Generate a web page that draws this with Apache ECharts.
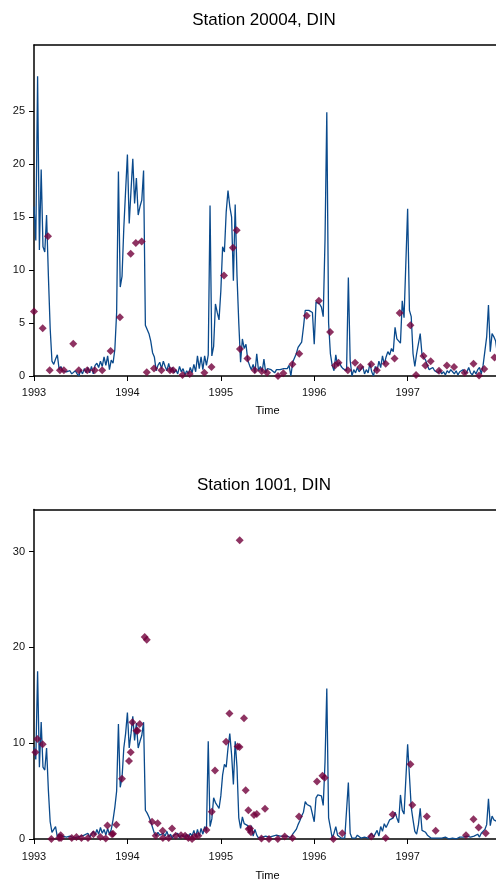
<!DOCTYPE html>
<html>
<head>
<meta charset="utf-8">
<script src="https://cdn.jsdelivr.net/npm/echarts@6/dist/echarts.min.js"></script>
<style>
  html, body { margin: 0; padding: 0; background: #fff; }
  #chart { width: 496px; height: 887px; }
</style>
</head>
<body>
<div id="chart"></div>
<script>
// weekly samples, first one at 1993.0
var startYear = 1993;
var samplesPerYear = 52;

var line20004 = [
  16.0, 12.8, 28.3, 11.9, 19.5, 12.2, 11.7, 15.2, 9.5, 4.5,
  1.4, 1.1, 1.6, 2.0, 0.6, 0.9, 0.5, 0.6, 0.4, 0.3,
  0.5, 0.2, 0.1, 0.5, 0.2, 0.0, 0.6, 0.2, 0.7, 0.3,
  0.8, 0.3, 0.9, 0.2, 1.0, 1.2, 0.8, 1.4, 0.9, 1.8,
  1.0, 1.9, 0.6, 1.5, 1.2, 2.5, 6.0, 19.3, 8.4, 9.4,
  14.0, 17.5,
  20.9, 14.4, 17.5, 20.5, 16.3, 18.7, 15.2, 16.0, 16.6, 19.4,
  4.8, 4.4, 4.0, 3.3, 2.2, 1.8, 0.5, 1.0, 1.3, 0.7,
  1.4, 0.9, 0.5, 1.2, 0.4, 0.8, 0.3, 0.6, 0.2, 0.9,
  0.4, 0.7, 0.1, 0.5, 0.2, 0.8, 0.3, 1.1, 0.4, 1.9,
  0.7, 1.8, 0.6, 1.9, 1.0, 2.0, 16.1, 1.9, 2.8, 6.8,
  6.0, 5.3,
  8.0, 12.2, 11.7, 15.5, 17.5, 16.0, 15.0, 9.0, 16.2, 9.5,
  5.0, 1.3, 3.5, 2.6, 3.0, 1.5, 1.0, 0.6, 1.1, 0.3,
  2.1, 0.5, 0.9, 0.4, 1.6, 0.3, 0.7, 0.6, 0.6, 0.5,
  0.3, 0.6, 0.7, 0.6, 0.5, 0.7, 0.8, 0.7, 1.0, 0.0,
  1.3, 1.7, 2.1, 2.7, 2.6, 3.2, 4.6, 6.2, 6.3, 6.2,
  6.1, 6.0,
  3.0, 7.0, 7.0, 6.8, 6.5, 5.6, 12.8, 24.9, 5.0, 2.1,
  1.0, 0.5, 2.0, 1.0, 1.3, 0.9, 0.7, 0.6, 0.5, 9.3,
  1.5, 0.0, 0.6, 0.3, 0.8, 0.4, 0.5, 0.9, 0.2, 0.6,
  0.3, 1.2, 0.4, 0.0, 0.9, 0.5, 1.4, 0.8, 1.9, 1.1,
  1.8, 2.3, 2.0, 2.6, 2.3, 4.6, 3.5, 3.6, 3.1, 7.1,
  5.5, 5.6,
  15.8, 6.2, 5.6, 2.1, 0.9, 2.1, 2.0, 4.0, 2.0, 2.1,
  1.5, 1.0, 0.6, 0.5, 0.8, 0.5, 0.6, 0.3, 0.6, 0.2,
  0.4, 0.1, 0.5, 0.3, 0.6, 0.4, 0.2, 0.5, 0.1, 0.4,
  0.3, 0.6, 0.2, 0.4, 0.8, 0.3, 0.1, 0.5, 0.2, 0.6,
  0.8, 0.2, 1.0, 1.0, 3.7, 6.7, 2.3, 4.0, 3.7, 3.3,
  2.0, 2.5
];

var line1001 = [
  9.6, 8.3, 17.5, 7.5, 12.2, 7.5, 7.2, 9.5, 5.1, 1.8,
  0.7, 0.9, 1.3, 0.2, 0.5, 0.4, 0.3, 0.3, 0.2, 0.4,
  0.3, 0.2, 0.1, 0.3, 0.2, 0.1, 0.3, 0.1, 0.4, 0.2,
  0.6, 0.2, 0.5, 0.8, 0.4, 1.0, 0.5, 1.2, 0.6, 1.0,
  0.4, 1.1, 0.5, 1.0, 2.0, 3.3, 5.0, 12.0, 5.4, 6.4,
  9.5, 11.0,
  13.2, 9.5, 11.0, 12.8, 10.3, 12.1, 9.5, 10.2, 10.8, 12.2,
  3.0, 2.7, 2.3, 1.8, 1.2, 0.6, 0.3, 0.7, 0.4, 0.2,
  0.6, 0.3, 0.8, 0.2, 0.5, 0.1, 0.4, 0.2, 0.6, 0.1,
  0.4, 0.3, 0.2, 0.5, 0.1, 0.6, 0.3, 0.9, 0.2, 1.0,
  0.3, 1.1, 0.5, 1.3, 0.8, 10.2, 1.3, 2.1, 4.3, 3.8,
  3.5, 3.2,
  4.5, 6.7, 7.8, 7.5, 9.5, 11.0, 8.8, 5.7, 10.2, 7.5,
  2.2, 1.1, 2.3, 1.6, 1.6, 1.4, 0.6, 1.4, 0.3, 1.0,
  0.4, 0.1, 0.3, 0.2, 0.2, 0.3, 0.1, 0.2, 0.4, 0.3,
  0.2, 0.4, 0.2, 0.3, 0.1, 0.3, 0.1, 0.3, 0.3, 0.1,
  0.5, 0.7, 1.0, 1.5, 1.9, 2.4, 2.8, 3.9, 3.6, 3.5,
  3.4, 3.4,
  1.8, 4.3, 4.6, 4.5, 4.5, 3.5, 8.0, 15.7, 2.2, 1.2,
  0.1, 0.6, 1.3, 0.4, 0.2, 0.1, 0.2, 0.1, 0.1, 5.9,
  0.6, 0.1, 0.3, 0.1, 0.4, 0.2, 0.1, 0.3, 0.2, 0.4,
  0.1, 0.2, 0.6, 0.2, 0.4, 0.9, 0.3, 1.3, 0.8, 1.6,
  1.2, 1.6, 2.0, 1.8, 2.2, 2.8, 2.2, 1.7, 4.6, 3.0,
  2.6, 2.6,
  9.9, 6.6, 3.3, 2.0, 0.8, 0.5, 1.5, 3.2, 0.9, 1.0,
  0.7, 0.4, 0.3, 0.1, 0.2, 0.1, 0.0, 0.1, 0.2, 0.1,
  0.0, 0.2, 0.1, 0.0, 0.2, 0.1, 0.2, 0.0, 0.1, 0.2,
  0.1, 0.2, 0.1, 0.3, 0.1, 0.2, 0.1, 0.3, 0.2, 0.5,
  0.2, 0.6, 0.4, 1.0, 1.5, 4.2, 1.4, 2.4, 2.0, 2.1,
  1.8, 2.0
];

// observations (diamonds)
var obsYears20004 = [1993.0, 1993.093, 1993.15, 1993.168, 1993.278, 1993.32, 1993.42, 1993.48, 1993.57, 1993.65,
  1993.73, 1993.82, 1993.92, 1994.035, 1994.09, 1994.153, 1994.207, 1994.285, 1994.364, 1994.456,
  1994.49, 1994.59, 1994.667, 1994.824, 1994.9, 1995.034, 1995.13, 1995.17, 1995.205, 1995.285,
  1995.363, 1995.438, 1995.495, 1995.612, 1995.67, 1995.767, 1995.84, 1995.92, 1996.05, 1996.17,
  1996.223, 1996.26, 1996.36, 1996.437, 1996.495, 1996.61, 1996.67, 1996.765, 1996.86, 1996.915,
  1997.03, 1997.09, 1997.17, 1997.19, 1997.247, 1997.336, 1997.42, 1997.497, 1997.61, 1997.705,
  1997.765, 1997.82, 1997.93];
var obsValues20004 = [6.1, 4.5, 13.2, 0.55, 0.55, 0.55, 3.05, 0.55, 0.55, 0.55,
  0.55, 2.35, 5.55, 11.55, 12.55, 12.7, 0.35, 0.7, 0.55, 0.55,
  0.55, 0.1, 0.2, 0.3, 0.85, 9.5, 12.1, 13.75, 2.55, 1.65,
  0.55, 0.45, 0.3, 0.0, 0.25, 1.1, 2.1, 5.7, 7.1, 4.15,
  1.0, 1.25, 0.55, 1.25, 0.85, 1.1, 0.55, 1.15, 1.65, 5.95,
  4.8, 0.1, 1.9, 1.0, 1.4, 0.5, 1.0, 0.85, 0.3, 1.15,
  0.05, 0.65, 1.75];

var obsYears1001 = [1993.015, 1993.036, 1993.093, 1993.186, 1993.268, 1993.286, 1993.29, 1993.404, 1993.454, 1993.508,
  1993.578, 1993.636, 1993.71, 1993.768, 1993.786, 1993.835, 1993.846, 1993.882, 1993.942,
  1994.017, 1994.035, 1994.053, 1994.096, 1994.11, 1994.132, 1994.185, 1994.207, 1994.264, 1994.303,
  1994.324, 1994.378, 1994.38, 1994.442, 1994.478, 1994.517, 1994.574, 1994.617, 1994.653, 1994.692,
  1994.72, 1994.76, 1994.846, 1994.903, 1994.938,
  1995.056, 1995.092, 1995.18, 1995.2, 1995.202, 1995.248, 1995.266, 1995.295, 1995.298, 1995.313,
  1995.323, 1995.355, 1995.385, 1995.435, 1995.473, 1995.516, 1995.61, 1995.684, 1995.767, 1995.837,
  1996.03, 1996.088, 1996.112, 1996.205, 1996.3, 1996.61, 1996.765, 1996.84,
  1997.03, 1997.05, 1997.205, 1997.3, 1997.625, 1997.705, 1997.76, 1997.836];
var obsValues1001 = [9.05, 10.45, 9.9, 0.0, 0.1, 0.4, 0.1, 0.1, 0.2, 0.1,
  0.1, 0.5, 0.2, 0.05, 1.4, 0.5, 0.55, 1.5, 6.3,
  8.15, 9.05, 12.2, 11.3, 11.3, 12.0, 21.1, 20.8, 1.8, 0.35,
  1.65, 0.85, 0.1, 0.1, 1.1, 0.35, 0.4, 0.35, 0.1, 0.0,
  0.25, 0.35, 0.95, 2.85, 7.15,
  10.15, 13.1, 9.65, 9.6, 31.2, 12.6, 5.1, 3.0, 1.05, 1.1,
  0.7, 2.5, 2.6, 0.05, 3.15, 0.0, 0.0, 0.25, 0.1, 2.35,
  6.0, 6.6, 6.4, 0.0, 0.6, 0.25, 0.1, 2.55,
  7.8, 3.55, 2.35, 0.85, 0.4, 2.05, 1.2, 0.6];

var titles = ["Station 20004, DIN", "Station 1001, DIN"];
var yTicks20004 = [0, 5, 10, 15, 20, 25];
var yTicks1001 = [0, 10, 20, 30];
var xTicks = [1993, 1994, 1995, 1996, 1997];

var lineColor = '#0a4a8c';
var pointColor = '#72003b';
var font = 'Liberation Sans, Arial, sans-serif';

// the plot runs off the right edge of the page, so the visible part ends just before 1998
var xMax = 1997.946;

function weekly(values) {
  var out = [];
  for (var i = 0; i < values.length; i++) {
    out.push([startYear + i / samplesPerYear, values[i]]);
  }
  return out;
}

function pairs(xs, ys) {
  var out = [];
  for (var i = 0; i < xs.length; i++) {
    out.push([xs[i], ys[i]]);
  }
  return out;
}

function xAxisFor(idx, labelMargin, nameGap) {
  return {
    type: 'value', gridIndex: idx, min: 1993, max: xMax,
    name: 'Time', nameLocation: 'middle', nameGap: nameGap,
    nameTextStyle: { fontFamily: font, fontSize: 11, color: '#000', padding: [0, 0, 0, 5] },
    axisLine: { show: true, onZero: false, lineStyle: { color: '#000', width: 1.5 } },
    axisTick: { show: true, length: 5, customValues: xTicks, lineStyle: { color: '#000' } },
    axisLabel: {
      customValues: xTicks, margin: labelMargin, fontFamily: font, fontSize: 11, color: '#111',
      formatter: function(v) { return String(v); }
    },
    splitLine: { show: false }
  };
}

// top frame line only (the right side is cut off)
function topAxisFor(idx) {
  return {
    type: 'value', gridIndex: idx, position: 'top', min: 1993, max: xMax,
    axisLine: { show: true, onZero: false, lineStyle: { color: '#000', width: 1.5 } },
    axisTick: { show: false }, axisLabel: { show: false }, splitLine: { show: false }
  };
}

function yAxisFor(idx, max, ticks) {
  return {
    type: 'value', gridIndex: idx, min: 0, max: max,
    axisLine: { show: true, onZero: false, lineStyle: { color: '#000', width: 1.5 } },
    axisTick: { show: true, length: 5, customValues: ticks, lineStyle: { color: '#000' } },
    axisLabel: { customValues: ticks, margin: 9, fontFamily: font, fontSize: 11, color: '#111' },
    splitLine: { show: false }
  };
}

var chart = echarts.init(document.getElementById('chart'), null, { renderer: 'canvas' });
chart.setOption({
  backgroundColor: '#fff',
  animation: false,
  title: [{
    text: titles[0], left: 264, top: 12, textAlign: 'center', padding: 0,
    textStyle: { fontFamily: font, fontSize: 17, fontWeight: 'normal', color: '#000' }
  }, {
    text: titles[1], left: 264, top: 477, textAlign: 'center', padding: 0,
    textStyle: { fontFamily: font, fontSize: 17, fontWeight: 'normal', color: '#000' }
  }],
  grid: [
    { left: 34, top: 45, width: 462, height: 331 },
    { left: 34, top: 509.5, width: 462, height: 329.5 }
  ],
  xAxis: [xAxisFor(0, 11, 29), xAxisFor(1, 12, 31), topAxisFor(0), topAxisFor(1)],
  yAxis: [yAxisFor(0, 31.25, yTicks20004), yAxisFor(1, 34.4, yTicks1001)],
  series: [{
    type: 'line', xAxisIndex: 0, yAxisIndex: 0, data: weekly(line20004),
    showSymbol: false, lineStyle: { color: lineColor, width: 1.3 }, z: 2
  }, {
    type: 'scatter', xAxisIndex: 0, yAxisIndex: 0, data: pairs(obsYears20004, obsValues20004),
    symbol: 'diamond', symbolSize: 8, itemStyle: { color: pointColor }, z: 3
  }, {
    type: 'line', xAxisIndex: 1, yAxisIndex: 1, data: weekly(line1001),
    showSymbol: false, lineStyle: { color: lineColor, width: 1.3 }, z: 2
  }, {
    type: 'scatter', xAxisIndex: 1, yAxisIndex: 1, data: pairs(obsYears1001, obsValues1001),
    symbol: 'diamond', symbolSize: 8, itemStyle: { color: pointColor }, z: 3
  }]
});
</script>
</body>
</html>
